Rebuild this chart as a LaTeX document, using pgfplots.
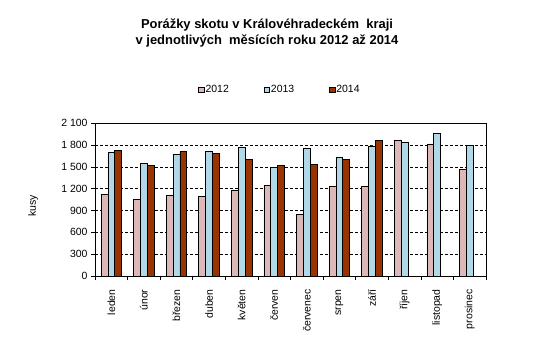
\documentclass[border=0pt]{standalone}
\usepackage{fontspec}
\setmainfont{Liberation Sans}
\usepackage{pgfplots}
\pgfplotsset{compat=1.18}
\definecolor{c12}{HTML}{DDB8B8}
\definecolor{c13}{HTML}{B0D8E8}
\definecolor{c14}{HTML}{993300}
\begin{document}
\begin{tikzpicture}
\path[use as bounding box] (0bp,0bp) rectangle (560bp,359bp);
\node[font=\fontsize{13}{16.5}\selectfont\bfseries, align=center] at (267bp,326bp)
  {Porážky skotu v Královéhradeckém\ \ kraji\\v jednotlivých\ \ měsících roku 2012 až 2014};
\begin{axis}[
  at={(95bp,83bp)}, anchor=south west,
  scale only axis, width=391bp, height=152.7bp,
  ymin=0, ymax=2100, ytick={0,300,...,2100},
  xmin=-0.5, xmax=11.5,
  xtick={0,...,11},
  xticklabels={leden,únor,březen,duben,květen,červen,červenec,srpen,září,říjen,listopad,prosinec},
  minor xtick={-0.5,0.5,...,11.5},
  major x tick style={draw=none},
  tick align=outside, xtick pos=bottom, ytick pos=left,
  major tick length=4bp, minor tick length=4bp,
  tick style={black, line width=0.6pt},
  minor tick style={black, line width=0.6pt},
  axis line style={black, line width=0.7pt},
  ymajorgrids, grid style={black, line width=0.6pt, dash pattern=on 3bp off 2bp},
  tick label style={font=\fontsize{10.5}{12}\selectfont},
  x tick label style={rotate=90, anchor=east},
  xticklabel shift=6bp,
  /pgf/number format/assume math mode=true,
  /pgf/number format/1000 sep={\ },
  ylabel={kusy},
  ylabel style={at={(axis description cs:-0.158,0.46)}, anchor=center, font=\fontsize{10.5}{12}\selectfont},
  ybar, bar width=0.21,
  legend image code/.code={\draw[#1, draw=black, line width=0.6pt] (0bp,-2.5bp) rectangle (5.5bp,3bp);},
  legend columns=3,
  legend style={at={(axis description cs:0.472,1.218)}, anchor=center, draw=none,
    font=\fontsize{10.5}{12}\selectfont, nodes={inner sep=1bp},
    /tikz/every even column/.append style={column sep=34bp}},
]
\addplot[fill=c12, draw=black, line width=0.6pt, bar shift=-0.21] coordinates {
 (0,1123) (1,1055) (2,1105) (3,1096) (4,1183) (5,1247) (6,848) (7,1233) (8,1233) (9,1866) (10,1816) (11,1467)};
\addplot[fill=c13, draw=black, line width=0.6pt, bar shift=0] coordinates {
 (0,1701) (1,1550) (2,1674) (3,1715) (4,1770) (5,1495) (6,1756) (7,1632) (8,1788) (9,1839) (10,1962) (11,1797)};
\addplot[fill=c14, draw=black, line width=0.6pt, bar shift=0.21] coordinates {
 (0,1729) (1,1522) (2,1715) (3,1687) (4,1605) (5,1522) (6,1536) (7,1605) (8,1866)};
\legend{2012,2013,2014}
\end{axis}
\end{tikzpicture}
\end{document}
